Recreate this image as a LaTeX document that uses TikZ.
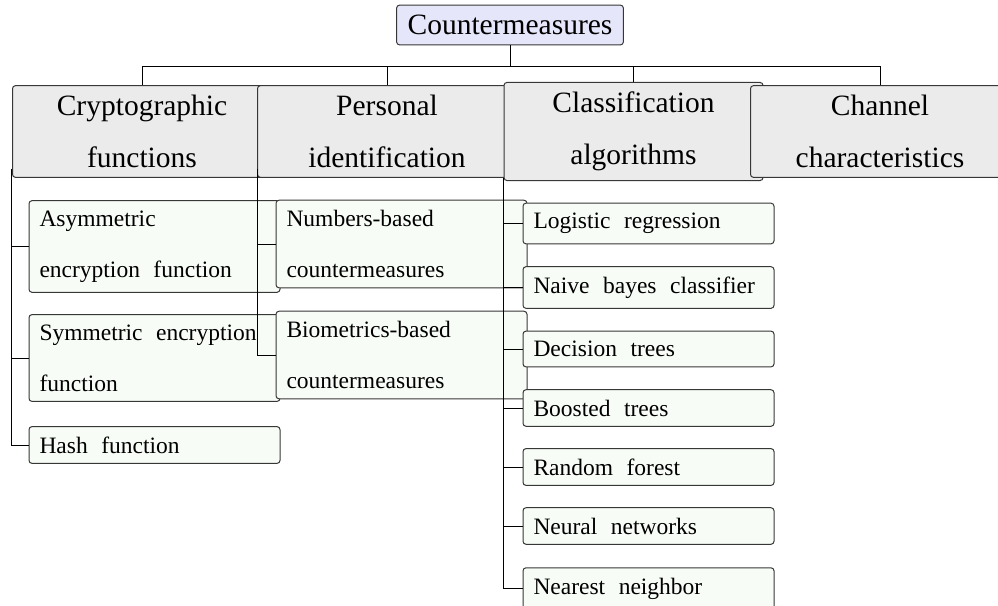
\documentclass[tikz,border=0pt]{standalone}
\usepackage{fontspec}
\setmainfont{Liberation Serif}
\definecolor{rootfill}{RGB}{230,230,250}
\definecolor{catfill}{RGB}{235,235,235}
\definecolor{leaffill}{RGB}{248,252,246}
\definecolor{edgegray}{RGB}{55,55,55}
\tikzset{
  boxbase/.style={draw=edgegray, rounded corners=3pt, line width=1pt},
  rootbox/.style={boxbase, fill=rootfill, inner xsep=11pt, inner ysep=10pt,
    font=\fontsize{29.5}{35}\selectfont},
  catbox/.style={boxbase, fill=catfill, inner xsep=5pt, inner ysep=9.5pt,
    text width=249pt, align=center, font=\fontsize{29.5}{52}\selectfont},
  leafbox/.style={boxbase, fill=leaffill, inner xsep=10.5pt, inner ysep=10pt,
    text width=230pt, align=left, font=\fontsize{23.5}{51}\selectfont,
    execute at begin node={\spaceskip=13.5pt plus 1pt minus 1pt\relax}},
  link/.style={draw=black, line width=1pt}
}
\begin{document}
\begin{tikzpicture}[x=1pt, y=-1pt]
\useasboundingbox (0,0) rectangle (998,605);
\clip (0,0) rectangle (998,605);

% root
\node[rootbox] (root) at (510,25) {Countermeasures};
\draw[link] (root.south) -- ++(0,21) coordinate (hub);

% Cryptographic functions
\node[catbox] (crypto) at (142,131.5) {Cryptographic\\functions};
\draw[link] (hub) -| (crypto.north);
\node[leafbox] (asym) at (154.5,246.5) {Asymmetric\\encryption function};
\node[leafbox] (sym) at (154.5,358) {Symmetric encryption\\function};
\node[leafbox] (hash) at (154.5,445) {Hash function};
\draw[link] ([xshift=-1pt,yshift=9pt]crypto.south west) |- (asym.west);
\draw[link] ([xshift=-1pt,yshift=9pt]crypto.south west) |- (sym.west);
\draw[link] ([xshift=-1pt,yshift=9pt]crypto.south west) |- (hash.west);

% Personal identification
\node[catbox] (personal) at (387,131.5) {Personal\\identification};
\draw[link] (hub) -| (personal.north);
\node[leafbox] (numbers) at (401.5,244) {Numbers-based\\countermeasures};
\node[leafbox] (bio) at (401.5,355) {Biometrics-based\\countermeasures};
\draw[link] ([yshift=9pt]personal.south west) |- (numbers.west);
\draw[link] ([yshift=9pt]personal.south west) |- (bio.west);

% Classification algorithms
\node[catbox] (class) at (633.5,131.5) {Classification\\algorithms};
\draw[link] (hub) -| (class.north);
\node[leafbox] (logit) at (648.5,223.5) {Logistic regression};
\node[leafbox] (bayes) at (648.5,287.5) {Naive bayes classifier};
\node[leafbox] (dtree) at (648.5,349) {Decision trees};
\node[leafbox] (boost) at (648.5,408) {Boosted trees};
\node[leafbox] (forest) at (648.5,467) {Random forest};
\node[leafbox] (neural) at (648.5,526) {Neural networks};
\node[leafbox] (nearest) at (648.5,588.5) {Nearest neighbor};
\foreach \c in {logit,bayes,dtree,boost,forest,neural,nearest}
  \draw[link] ([yshift=3pt]class.south west) |- (\c.west);

% Channel characteristics
\node[catbox] (channel) at (880,131.5) {Channel\\characteristics};
\draw[link] (hub) -| (channel.north);
\end{tikzpicture}
\end{document}
